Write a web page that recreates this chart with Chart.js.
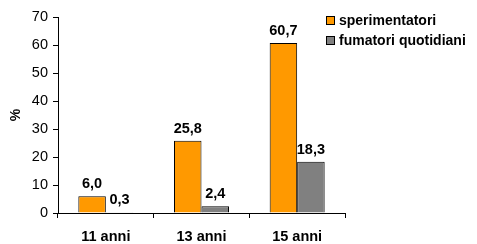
<!DOCTYPE html>
<html>
<head>
<meta charset="utf-8">
<script src="https://cdn.jsdelivr.net/npm/chart.js@4/dist/chart.umd.min.js"></script>
<style>
  body { margin: 0; background: #fff; }
  #wrap { position: relative; width: 477px; height: 244px; }
  #legend { position: absolute; left: 326px; top: 10px; font: bold 14px "Liberation Sans", Arial, sans-serif; color: #000; }
  #legend div { height: 20px; display: flex; align-items: center; }
  #legend span.box { display: inline-block; width: 7px; height: 7px; border: 1px solid #000; margin-right: 4px; }
</style>
</head>
<body>
<div id="wrap">
  <canvas id="chart" width="477" height="244"></canvas>
  <div id="legend"></div>
</div>
<script>
const categories = ["11 anni", "13 anni", "15 anni"];
const sperimentatori = [6.0, 25.8, 60.7];
const fumatoriQuotidiani = [0.3, 2.4, 18.3];
const seriesNames = ["sperimentatori", "fumatori quotidiani"];
const seriesColors = ["#FF9900", "#808080"];
const yTicks = [0, 10, 20, 30, 40, 50, 60, 70];

const font = "'Liberation Sans', Arial, sans-serif";

const valueLabels = {
    id: "valueLabels",
    afterDatasetsDraw(chart) {
        const ctx = chart.ctx;
        ctx.save();
        ctx.font = "bold 14.5px " + font;
        ctx.fillStyle = "#000";
        ctx.textAlign = "center";
        ctx.textBaseline = "bottom";
        chart.data.datasets.forEach((ds, i) => {
            chart.getDatasetMeta(i).data.forEach((bar, j) => {
                ctx.fillText(ds.data[j].toFixed(1).replace(".", ","), bar.x, bar.y - 5);
            });
        });
        ctx.restore();
    }
};

const ctx = document.getElementById("chart").getContext("2d");
const chart = new Chart(ctx, {
    type: "bar",
    data: {
        labels: categories,
        datasets: [
            { label: seriesNames[0], data: sperimentatori, backgroundColor: seriesColors[0], borderColor: "#000", borderWidth: 1 },
            { label: seriesNames[1], data: fumatoriQuotidiani, backgroundColor: seriesColors[1], borderColor: "#000", borderWidth: 1 }
        ]
    },
    options: {
        responsive: false,
        animation: false,
        devicePixelRatio: 1,
        categoryPercentage: 0.575,
        barPercentage: 1,
        layout: { padding: { left: 0, right: 132, top: 17, bottom: 0 } },
        plugins: {
            legend: { display: false },
            tooltip: { enabled: false }
        },
        scales: {
            x: {
                grid: { display: true, drawOnChartArea: false, drawTicks: true, tickLength: 5, color: "#000", offset: true },
                border: { display: true, color: "#000", width: 1 },
                ticks: { color: "#000", font: { family: font, size: 14.5, weight: "bold" }, padding: 10 },
                afterFit(scale) { scale.height = 31; }
            },
            y: {
                min: 0,
                max: 70,
                afterBuildTicks(scale) { scale.ticks = yTicks.map(v => ({ value: v })); },
                grid: { display: true, drawOnChartArea: false, drawTicks: true, tickLength: 5, color: "#000" },
                border: { display: true, color: "#000", width: 1 },
                ticks: { color: "#000", font: { family: font, size: 14.5 }, padding: 5 },
                title: { display: true, text: "%", color: "#000", font: { family: font, size: 14, weight: "bold" }, padding: { top: 8, bottom: 0 } },
                afterFit(scale) { scale.width = 58; }
            }
        }
    },
    plugins: [valueLabels]
});

const legend = document.getElementById("legend");
chart.data.datasets.forEach(ds => {
    const row = document.createElement("div");
    const box = document.createElement("span");
    box.className = "box";
    box.style.background = ds.backgroundColor;
    row.appendChild(box);
    row.appendChild(document.createTextNode(ds.label));
    legend.appendChild(row);
});
</script>
</body>
</html>
